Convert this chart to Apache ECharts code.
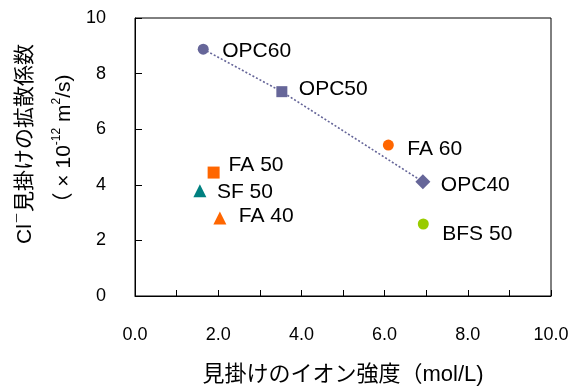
<!DOCTYPE html>
<html>
<head>
<meta charset="utf-8">
<script src="https://cdn.jsdelivr.net/npm/echarts@6/dist/echarts.min.js"></script>
<style>
html,body{margin:0;padding:0;background:#fff;}
#chart{width:576px;height:387px;}
</style>
</head>
<body>
<div id="chart"></div>
<script>
// ---- data ----
const pointNames = ['OPC60', 'OPC50', 'OPC40', 'FA 60', 'FA 50', 'FA 40', 'SF 50', 'BFS 50'];
const ionicStrength = [1.64, 3.53, 6.92, 6.09, 1.89, 2.04, 1.56, 6.93];
const diffusionCoef = [8.88, 7.35, 4.11, 5.43, 4.44, 2.81, 3.79, 2.59];
const opcSeriesNames = ['OPC60', 'OPC50', 'OPC40'];   // joined by the dotted line
const xTickValues = [0, 2, 4, 6, 8, 10];
const yTickValues = [0, 2, 4, 6, 8, 10];

// ---- styles (not data) ----
const FONT = '"Liberation Sans", Arial, "Noto Sans CJK JP", sans-serif';
const markStyle = {
  'OPC60': { symbol: 'circle', size: 11, color: '#666699', gap: 19, dy: 2 },
  'OPC50': { symbol: 'rect', size: 11, color: '#666699', gap: 17, dy: -2 },
  'OPC40': { symbol: 'diamond', size: 15, color: '#666699', gap: 18, dy: 3 },
  'FA 60': { symbol: 'circle', size: 11, color: '#FF6600', gap: 19, dy: 4 },
  'FA 50': { symbol: 'rect', size: 12, color: '#FF6600', gap: 15, dy: -7 },
  'FA 40': { symbol: 'triangle', size: 13, color: '#FF6600', gap: 19, dy: -2 },
  'SF 50': { symbol: 'triangle', size: 13, color: '#008080', gap: 17, dy: 2 },
  'BFS 50': { symbol: 'circle', size: 11, color: '#99CC00', gap: 19, dy: 10 }
};

function itemFor(i) {
  const n = pointNames[i];
  const s = markStyle[n];
  return {
    name: n,
    value: [ionicStrength[i], diffusionCoef[i]],
    symbol: s.symbol,
    symbolSize: s.size,
    itemStyle: { color: s.color, opacity: 1 },
    label: {
      show: true,
      formatter: n,
      position: 'right',
      distance: s.gap - s.size / 2,
      offset: [0, s.dy],
      color: '#000',
      fontSize: 21,
      fontFamily: FONT
    }
  };
}

const opcItems = pointNames
  .map((n, i) => i)
  .filter(i => opcSeriesNames.includes(pointNames[i]))
  .sort((a, b) => ionicStrength[a] - ionicStrength[b])
  .map(itemFor);

const series = [{
  type: 'line',
  name: 'OPC',
  data: opcItems,
  showSymbol: true,
  lineStyle: { color: '#666699', width: 1.6, type: [2, 2] },
  itemStyle: { color: '#666699' },
  z: 3,
  animation: false
}];
pointNames.forEach((n, i) => {
  if (opcSeriesNames.includes(n)) return;
  series.push({
    type: 'scatter',
    name: n,
    data: [itemFor(i)],
    z: 4,
    animation: false
  });
});

const chart = echarts.init(document.getElementById('chart'), null, { renderer: 'canvas' });
chart.setOption({
  animation: false,
  backgroundColor: '#fff',
  grid: {
    left: 135, top: 18, right: 25, bottom: 91,
    containLabel: false,
    outerBoundsMode: 'none',
    show: true, borderColor: '#000', borderWidth: 1, backgroundColor: 'transparent'
  },
  xAxis: {
    type: 'value',
    min: 0, max: 10, interval: 1,
    name: '見掛けのイオン強度（mol/L)',
    nameLocation: 'middle',
    nameGap: 68,
    nameTextStyle: { fontSize: 22, color: '#000', fontFamily: FONT },
    axisLine: { show: true, lineStyle: { color: '#000', width: 1 } },
    axisTick: { show: true, inside: true, length: 6, lineStyle: { color: '#000' } },
    splitLine: { show: false },
    axisLabel: {
      margin: 30,
      fontSize: 18,
      color: '#000',
      fontFamily: FONT,
      formatter: v => xTickValues.includes(v) ? v.toFixed(1) : ''
    }
  },
  yAxis: {
    type: 'value',
    min: 0, max: 10, interval: 2,
    name: '{a|Cl}{sup|－}{a|見掛けの拡散係数}\n{a|（ × 10}{sup|-12}{a| m}{sup|2}{a|/s)}',
    nameLocation: 'middle',
    nameRotate: 90,
    nameGap: 49,
    nameTextStyle: {
      color: '#000',
      fontFamily: FONT,
      padding: [0, 0, 0, 26],
      rich: {
        a: { fontSize: 21, lineHeight: 39, color: '#000', fontFamily: FONT, verticalAlign: 'middle' },
        sup: { fontSize: 12, lineHeight: 39, color: '#000', fontFamily: FONT, verticalAlign: 'top', padding: [6, 0, 0, 0] }
      }
    },
    axisLine: { show: true, lineStyle: { color: '#000', width: 1 } },
    axisTick: { show: true, inside: true, length: 7, lineStyle: { color: '#000' } },
    splitLine: { show: false },
    axisLabel: {
      margin: 29,
      fontSize: 18,
      color: '#000',
      fontFamily: FONT,
      padding: [4, 0, 0, 0],
      formatter: v => yTickValues.includes(v) ? String(v) : ''
    }
  },
  series: series
});
</script>
</body>
</html>
